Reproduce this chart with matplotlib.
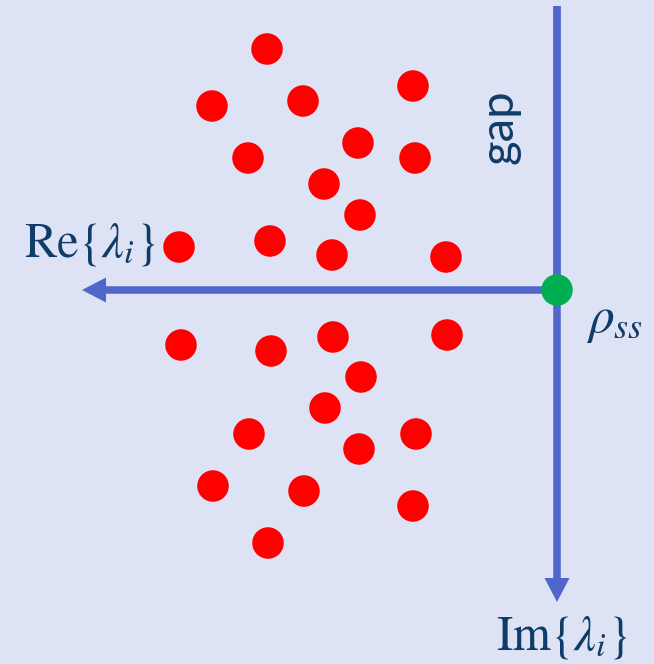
import matplotlib.pyplot as plt

plt.rcParams['mathtext.fontset'] = 'stix'

# eigenvalue positions (pixel-like plane coordinates, y grows downward)
upper_x = [267, 212, 303, 413, 248, 358, 415, 324, 360, 179, 270, 332, 446]
upper_y = [49, 106, 101, 86, 158, 143, 158, 184, 215, 247, 241, 255, 257]
lower_x = [181, 271, 333, 447, 361, 325, 249, 359, 416, 213, 304, 413, 268]
lower_y = [345, 351, 337, 335, 377, 408, 434, 449, 434, 486, 491, 506, 543]

# steady state sits where the two axes cross
origin = (557, 290)
re_tip = 82
im_top, im_tip = 6, 602

bg = '#dde2f4'
axis_blue = '#4f67cb'
text_col = '#0f3c68'

fig = plt.figure(figsize=(6.54, 6.64), dpi=100, facecolor=bg)
ax = fig.add_axes([0, 0, 1, 1])
ax.set_facecolor(bg)
ax.set_xlim(0, 654)
ax.set_ylim(664, 0)
ax.set_aspect('equal')
ax.axis('off')

# axes arrows
ax.plot([origin[0], origin[0]], [im_top, origin[1]], color=axis_blue, lw=5.6,
        solid_capstyle='butt', zorder=2)
ax.arrow(origin[0], origin[1], 0, im_tip - origin[1], width=7.5, head_width=25,
         head_length=24, length_includes_head=True, color=axis_blue, lw=0, zorder=2)
ax.arrow(origin[0], origin[1], re_tip - origin[0], 0, width=7.5, head_width=25,
         head_length=24, length_includes_head=True, color=axis_blue, lw=0, zorder=2)

# eigenvalues
ax.scatter(upper_x + lower_x, upper_y + lower_y, s=515, color='#ff0000',
           edgecolors='none', zorder=3)
ax.scatter([origin[0]], [origin[1]], s=515, color='#00b050', edgecolors='none', zorder=4)

# labels
ax.text(90, 244, r'$\mathrm{Re}\{\lambda_i\}$', fontsize=35, color=text_col,
        ha='center', va='center')
ax.text(562, 637, r'$\mathrm{Im}\{\lambda_i\}$', fontsize=35, color=text_col,
        ha='center', va='center')
ax.text(615, 320, r'$\rho_{ss}$', fontsize=37, color=text_col,
        ha='center', va='center')
ax.text(499, 127, 'gap', fontsize=34, color=text_col, family='Lato',
        rotation=90, ha='center', va='center')

fig.savefig('out.png', dpi=100, facecolor=bg)
